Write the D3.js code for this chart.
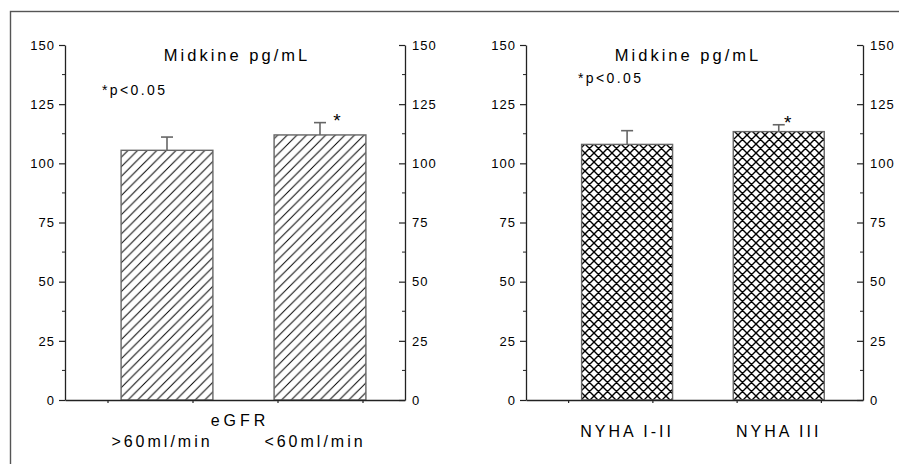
<!DOCTYPE html>
<html lang="en">
<head>
  <meta charset="UTF-8">
  <title></title>
  <style>
    html, body { margin: 0; padding: 0; background: #fff; }
  </style>
</head>
<body>
  <script src="https://d3js.org/d3.v7.min.js"></script>
  <script>
    // --- data ---
    const eGFRGroups = [">60ml/min", "<60ml/min"];
    const eGFRMeans = [105.5, 112.0];
    const eGFRErr = [5.6, 5.2];
    const eGFRSig = [false, true];

    const nyhaGroups = ["NYHA I-II", "NYHA III"];
    const nyhaMeans = [108.0, 113.4];
    const nyhaErr = [5.8, 2.9];
    const nyhaSig = [false, true];

    const yTicks = [0, 25, 50, 75, 100, 125, 150];
    const yMinor = [12.5, 37.5, 62.5, 87.5, 112.5, 137.5];
    const xMinor = [0.5, 1.5, 2.5, 3.5];

    const [width, height] = [899, 464];
    const font = "'Liberation Sans', Arial, sans-serif";
    const ink = "#000";

    const svg = d3.select(document.body)
      .append("svg")
      .attr("width", width)
      .attr("height", height)
      .attr("font-family", font);

    const defs = svg.append("defs");
    // diagonal hatch
    defs.append("pattern")
      .attr("id", "diag")
      .attr("patternUnits", "userSpaceOnUse")
      .attr("width", 9.6).attr("height", 9.6)
      .append("path")
      .attr("d", "M-1,1 l2,-2 M0,9.6 l9.6,-9.6 M8.6,10.6 l2,-2")
      .attr("stroke", "#000").attr("stroke-width", 1);
    // cross hatch
    defs.append("pattern")
      .attr("id", "cross")
      .attr("patternUnits", "userSpaceOnUse")
      .attr("width", 9).attr("height", 9)
      .append("path")
      .attr("d", "M-1,1 l2,-2 M0,9 l9,-9 M8,10 l2,-2 M-1,8 l2,2 M0,0 l9,9 M8,-1 l2,2")
      .attr("stroke", "#000").attr("stroke-width", 1.4);

    // outer frame
    svg.append("rect")
      .attr("x", 10.5).attr("y", 11.5)
      .attr("width", 900).attr("height", 470)
      .attr("fill", "none")
      .attr("stroke", "#555")
      .attr("stroke-width", 1.4);

    const y = d3.scaleLinear().domain([0, 150]).range([400, 45]);

    const panels = [
      { x0: 65, x1: 405, groups: eGFRGroups, means: eGFRMeans, err: eGFRErr, sig: eGFRSig,
        fill: "url(#diag)", titleX: 237, pX: 102, pY: 95, starDx: 17,
        header: "eGFR", labelY: 447, labelDx: -5 },
      { x0: 526, x1: 863, groups: nyhaGroups, means: nyhaMeans, err: nyhaErr, sig: nyhaSig,
        fill: "url(#cross)", titleX: 688, pX: 578, pY: 83, starDx: 9,
        header: null, labelY: 437, labelDx: 0 }
    ];

    const styleAxis = s => {
      s.attr("font-family", null).attr("font-size", null);
      s.selectAll("text").attr("font-size", 13).attr("letter-spacing", 1).attr("fill", ink);
      s.select(".domain").attr("stroke", "#222").attr("stroke-width", 1.3);
      s.selectAll(".tick line").attr("stroke", "#222").attr("stroke-width", 1.2);
    };

    panels.forEach(p => {
      const g = svg.append("g");
      const xl = d3.scaleLinear().domain([0, 4]).range([p.x0, p.x1]);
      const x = d3.scaleBand()
        .domain(p.groups)
        .range([xl(0.66), xl(3.54)])
        .paddingInner(0.4)
        .paddingOuter(0);

      // bars
      g.append("g")
        .selectAll("rect")
        .data(p.groups)
        .join("rect")
        .attr("x", d => x(d))
        .attr("y", (d, i) => y(p.means[i]))
        .attr("width", x.bandwidth())
        .attr("height", (d, i) => y(0) - y(p.means[i]))
        .attr("fill", p.fill)
        .attr("stroke", "#666")
        .attr("stroke-width", 1.4);

      // error bars (upper only)
      const eb = g.append("g").attr("stroke", "#666").attr("stroke-width", 1.6);
      p.groups.forEach((d, i) => {
        const cx = x(d) + x.bandwidth() / 2;
        const top = y(p.means[i] + p.err[i]);
        eb.append("line")
          .attr("x1", cx).attr("x2", cx)
          .attr("y1", y(p.means[i])).attr("y2", top);
        eb.append("line")
          .attr("x1", cx - 6).attr("x2", cx + 6)
          .attr("y1", top).attr("y2", top);
        if (p.sig[i]) {
          g.append("text")
            .attr("x", cx + p.starDx)
            .attr("y", top + 4)
            .attr("text-anchor", "middle")
            .attr("font-size", 19)
            .attr("fill", ink)
            .text("*");
        }
      });

      // left axis
      const la = g.append("g")
        .attr("transform", `translate(${p.x0},0)`)
        .call(d3.axisLeft(y).tickValues(yTicks).tickSize(6).tickSizeOuter(0).tickPadding(4))
        .call(styleAxis);
      la.selectAll(".minor")
        .data(yMinor)
        .join("line")
        .attr("x1", -3).attr("x2", 0)
        .attr("y1", d => y(d)).attr("y2", d => y(d))
        .attr("stroke", "#222");

      // right axis (ticks point inward, labels outside)
      const ra = g.append("g")
        .attr("transform", `translate(${p.x1},0)`)
        .call(d3.axisRight(y).tickValues(yTicks).tickSize(0).tickSizeOuter(0).tickPadding(7))
        .call(styleAxis)
        .call(s => s.selectAll(".tick line").attr("x2", -6));
      ra.selectAll(".minor")
        .data(yMinor)
        .join("line")
        .attr("x1", -3).attr("x2", 0)
        .attr("y1", d => y(d)).attr("y2", d => y(d))
        .attr("stroke", "#222");

      // bottom axis
      g.append("g")
        .attr("transform", `translate(0,${y(0)})`)
        .call(d3.axisBottom(xl).tickValues(xMinor).tickSize(3).tickSizeOuter(0).tickFormat(""))
        .call(styleAxis);

      // title & note
      g.append("text")
        .attr("x", p.titleX).attr("y", 61)
        .attr("text-anchor", "middle")
        .attr("font-size", 16.5)
        .attr("letter-spacing", 3)
        .attr("fill", ink)
        .text("Midkine pg/mL");
      g.append("text")
        .attr("x", p.pX).attr("y", p.pY)
        .attr("font-size", 14)
        .attr("letter-spacing", 2.4)
        .attr("fill", ink)
        .text("*p<0.05");

      // category labels
      if (p.header) {
        g.append("text")
          .attr("x", (p.x0 + p.x1) / 2 + 5).attr("y", 426)
          .attr("text-anchor", "middle")
          .attr("font-size", 16)
          .attr("letter-spacing", 4)
          .attr("fill", ink)
          .text(p.header);
      }
      g.append("g")
        .selectAll("text")
        .data(p.groups)
        .join("text")
        .attr("x", d => x(d) + x.bandwidth() / 2 + p.labelDx)
        .attr("y", p.labelY)
        .attr("text-anchor", "middle")
        .attr("font-size", 16)
        .attr("letter-spacing", 3)
        .attr("fill", ink)
        .text(d => d);
    });
  </script>
</body>
</html>
